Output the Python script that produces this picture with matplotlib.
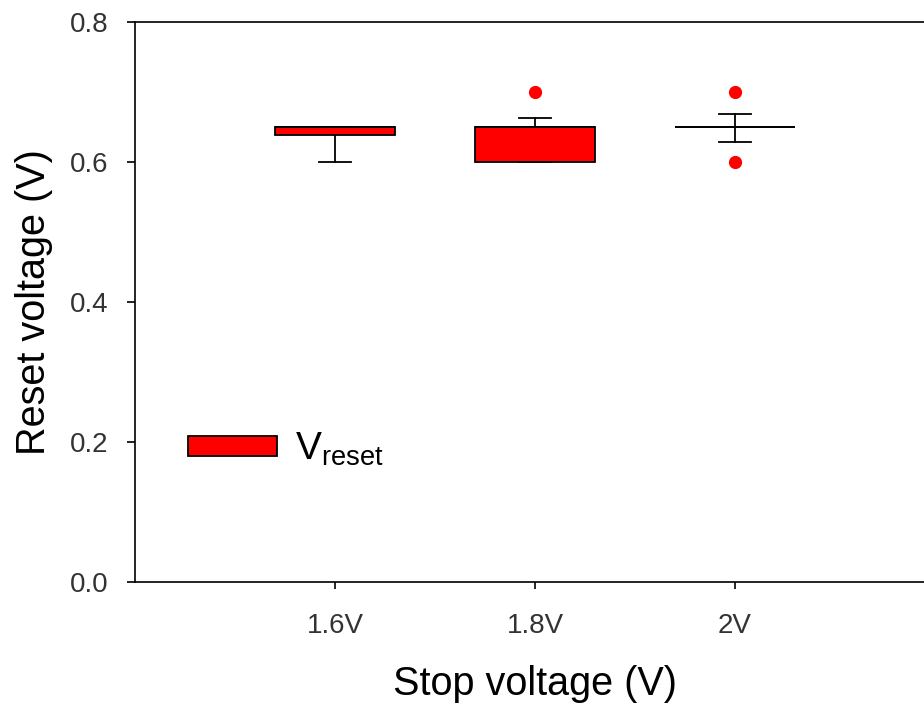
import matplotlib
matplotlib.use("Agg")
import matplotlib.pyplot as plt
from matplotlib.patches import Patch

plt.rcParams['font.family'] = ['Liberation Sans', 'DejaVu Sans']
plt.rcParams['mathtext.default'] = 'regular'

# box statistics
labels = ['1.6V', '1.8V', '2V']
q1 = [0.638, 0.600, 0.650]
q3 = [0.650, 0.650, 0.650]
med = [0.650, 0.650, 0.650]
whislo = [0.600, 0.600, 0.629]
whishi = [0.650, 0.663, 0.669]
fliers = [[], [0.70], [0.60, 0.70]]

stats = []
for i in range(len(labels)):
    stats.append(dict(label=labels[i], q1=q1[i], q3=q3[i], med=med[i],
                      whislo=whislo[i], whishi=whishi[i], fliers=fliers[i]))

fig = plt.figure(figsize=(9.24, 7.06), dpi=100)
# right spine sits just past the figure edge
ax = fig.add_axes([135/924, 124/706, 800/924, 560/706])

ax.bxp(stats, positions=[1, 2, 3], widths=0.6, patch_artist=True,
       capwidths=0.16,
       boxprops=dict(facecolor='red', edgecolor='black', linewidth=1.3),
       whiskerprops=dict(color='black', linewidth=1.3),
       capprops=dict(color='black', linewidth=1.3),
       medianprops=dict(color='black', linewidth=1.3),
       flierprops=dict(marker='o', markerfacecolor='red', markeredgecolor='red',
                       markersize=8.5))

ax.set_xlim(0, 4)
ax.set_ylim(0, 0.8)
ax.set_yticks([0.0, 0.2, 0.4, 0.6, 0.8])
ax.set_yticklabels(['%.1f' % v for v in [0.0, 0.2, 0.4, 0.6, 0.8]])
ax.set_xticks([1, 2, 3])
ax.set_xticklabels(labels)

for s in ax.spines.values():
    s.set_linewidth(1.2)
ax.spines['right'].set_visible(False)

ax.tick_params(axis='both', direction='out', width=1.2, labelsize=20,
               labelcolor='#333333')
ax.tick_params(axis='y', length=6, pad=13)
ax.tick_params(axis='x', length=5, pad=17)

ax.set_xlabel('Stop voltage (V)', fontsize=28.5, labelpad=19)
ax.set_ylabel('Reset voltage (V)', fontsize=28.5, labelpad=12)

h = Patch(facecolor='red', edgecolor='black', linewidth=1.3)
ax.legend([h], ['$V_{reset}$'], loc='center left', bbox_to_anchor=(0.022, 0.237),
          frameon=False, fontsize=28, handlelength=2.3, handleheight=0.4,
          handletextpad=0.45)

fig.savefig('out.png', dpi=100)
